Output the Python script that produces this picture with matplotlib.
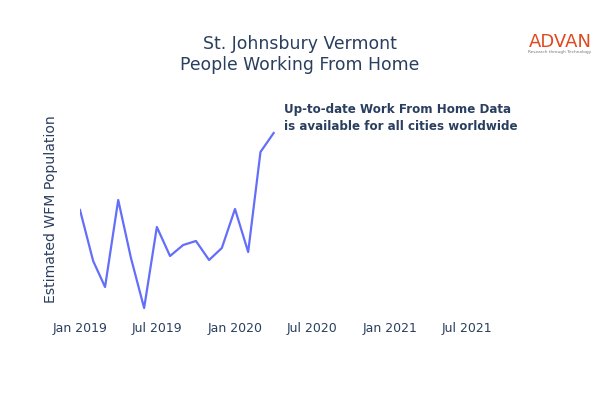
import matplotlib
matplotlib.use("Agg")
import matplotlib.pyplot as plt
import matplotlib.dates as mdates
import pandas as pd

# valores (sin escala en el eje y, unidades aproximadas)
meses = pd.date_range("2019-01-01", periods=16, freq="MS")
wfh = [98, 47, 21, 108, 50, 0, 81, 52, 63, 67, 48, 60, 99, 56, 156, 175]

tick_fechas = pd.to_datetime(["2019-01-01", "2019-07-01", "2020-01-01",
                              "2020-07-01", "2021-01-01", "2021-07-01"])
tick_labels = ["Jan 2019", "Jul 2019", "Jan 2020", "Jul 2020", "Jan 2021", "Jul 2021"]

titulo = "St. Johnsbury Vermont\nPeople Working From Home"
nota = "Up-to-date Work From Home Data\nis available for all cities worldwide"

azul_texto = "#2a3f5f"

fig = plt.figure(figsize=(6, 4), dpi=100)
ax = fig.add_axes([80/600, 1 - 320/400, 440/600, 220/400])

ax.plot(meses, wfh, color="#636efa", linewidth=1.6, solid_joinstyle="round")

ax.set_xlim(mdates.date2num(pd.Timestamp("2019-01-01")),
            mdates.date2num(pd.Timestamp("2019-01-01")) + 440 / (155 / 365))
ax.set_ylim(-12, 208)

ax.set_xticks(tick_fechas)
ax.set_xticklabels(tick_labels, fontsize=9, color=azul_texto)
ax.tick_params(axis="x", length=0, pad=1.5)
ax.set_yticks([])
for lado in ax.spines.values():
    lado.set_visible(False)

fig.text(51/600, 1 - 209.5/400, "Estimated WFM Population", rotation=90,
         ha="center", va="center", fontsize=10.1, color=azul_texto)
fig.text(300/600, 1 - 54.5/400, titulo, ha="center", va="center",
         fontsize=12.45, color=azul_texto, linespacing=1.22)
fig.text(284/600, 1 - 118/400, nota, ha="left", va="center",
         fontsize=8.6, fontweight="bold", color=azul_texto, linespacing=1.3)

# logo
fig.text(560/600, 1 - 42/400, "ADVAN", ha="center", va="center",
         fontsize=13, color="#e0491f")
fig.text(560/600, 1 - 52.5/400, "Research through Technology", ha="center", va="center",
         fontsize=3.1, color="#777777")

fig.savefig("out.png", dpi=100)
